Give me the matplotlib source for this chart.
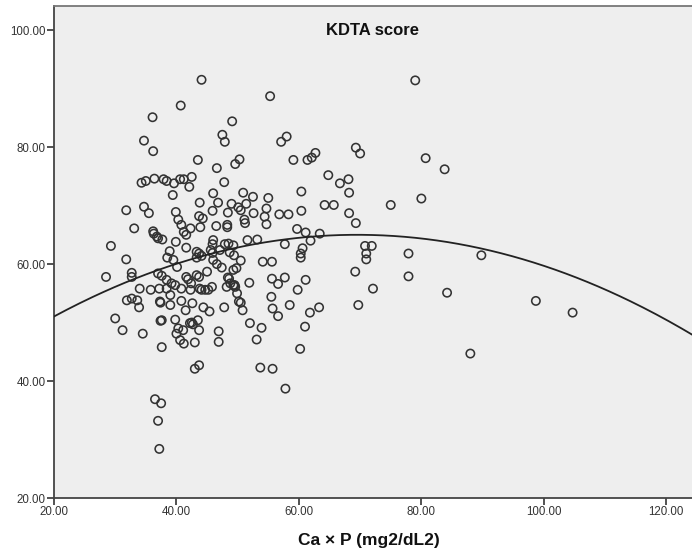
import numpy as np
import matplotlib
matplotlib.use("Agg")
import matplotlib.pyplot as plt

plt.rcParams['font.family'] = ['Liberation Sans', 'DejaVu Sans']

# Ca x P product (mg2/dL2) and KDTA score for each patient
ca_p = [
    44.1, 55.3, 40.7, 36.1, 49.1, 34.7, 36.2, 47.5, 47.9, 57.1, 58.0, 43.5, 59.1, 49.6, 50.3,
    46.6, 61.4, 62.1, 62.7, 64.8, 79.0, 69.3, 70.0, 80.7, 83.8,
    34.3, 35.0, 36.4, 37.9, 38.4, 39.6, 40.6, 41.2, 42.5, 42.1, 47.8, 66.7, 68.1, 68.2, 39.4,
    46.0, 50.9, 52.5, 55.0, 60.4,
    75.0, 80.0, 31.8, 34.7, 35.5, 43.8, 45.9, 46.8, 48.4, 49.0, 50.1, 50.5, 51.4, 52.6, 54.7,
    54.4, 56.8, 58.3, 60.4, 64.2, 65.7, 68.2, 69.3, 39.9, 40.3, 40.8, 43.7, 44.3, 42.3, 43.9,
    46.5, 48.3, 48.3, 51.1, 51.2, 54.7, 59.7, 33.1,
    36.2, 36.3, 36.8, 37.0, 37.7, 39.9, 41.2, 41.6, 46.0, 45.9, 47.9, 49.3, 48.5, 51.6, 53.2,
    57.7, 61.9, 61.1, 63.4, 29.3, 38.9, 38.5, 39.5, 41.6, 43.3, 43.7, 45.6, 45.9, 47.1, 49.4,
    48.7, 50.5, 54.1, 55.6, 43.3, 44.1, 46.0, 46.6, 47.4, 49.8, 49.3, 40.1, 31.8, 60.6, 60.3,
    60.3, 70.8, 71.9, 71.0, 71.0, 77.9, 89.8, 69.2, 77.9,
    28.5, 32.7, 32.7, 37.0, 37.6, 38.4, 45.0, 43.3, 41.6, 48.4, 55.6, 57.7, 61.1, 72.1, 69.7,
    84.2, 98.7, 104.7, 88.0,
    31.9, 32.7, 33.6, 34.0, 33.9, 35.8, 37.2, 37.3, 37.4, 38.4, 39.0, 39.0, 39.8, 40.8, 40.8,
    41.5, 41.9, 42.3, 42.4, 42.6, 43.7, 43.8, 44.4, 44.7, 45.2, 45.8, 45.4, 47.8, 48.2, 48.6,
    49.3, 49.6, 49.9, 50.2, 50.5, 50.8, 51.9, 55.5, 55.7, 56.6, 56.6, 58.5, 59.8, 61.8, 63.3,
    39.2, 44.1, 48.8, 49.5,
    30.0, 31.2, 34.5, 37.4, 37.6, 37.6, 39.8, 40.0, 40.3, 41.1, 40.6, 41.2, 42.2, 42.5, 42.7,
    43.0, 43.5, 43.7, 46.9, 46.9, 52.0, 53.9, 53.1, 61.0, 60.2, 43.0, 43.7, 53.7, 55.7, 57.8,
    36.5, 37.5, 37.0, 37.2,
]
kdta = [
    91.5, 88.7, 87.1, 85.1, 84.4, 81.1, 79.3, 82.1, 80.9, 80.9, 81.8, 77.8, 77.8, 77.1, 77.9,
    76.4, 77.8, 78.2, 79.0, 75.2, 91.4, 79.9, 78.9, 78.1, 76.2,
    73.9, 74.2, 74.6, 74.5, 74.2, 73.8, 74.5, 74.5, 74.9, 73.2, 74.0, 73.8, 74.5, 72.2, 71.8,
    72.1, 72.2, 71.5, 71.3, 72.4,
    70.1, 71.2, 69.2, 69.8, 68.7, 70.5, 69.1, 70.5, 68.8, 70.3, 69.7, 69.2, 70.3, 68.7, 69.5,
    68.1, 68.5, 68.5, 69.1, 70.1, 70.1, 68.7, 67.0, 68.9, 67.6, 66.7, 68.2, 67.8, 66.1, 66.3,
    66.5, 66.7, 66.3, 67.6, 67.0, 66.8, 66.0, 66.1,
    65.6, 65.2, 64.7, 64.4, 64.2, 63.8, 65.5, 65.0, 64.1, 63.4, 63.4, 63.2, 63.5, 64.1, 64.2,
    63.4, 64.0, 65.4, 65.2, 63.1, 62.2, 61.1, 60.7, 62.8, 62.1, 61.8, 62.4, 61.9, 62.4, 61.5,
    62.0, 60.6, 60.4, 60.4, 61.1, 61.4, 60.7, 60.0, 59.4, 59.3, 59.0, 59.5, 60.8, 62.7, 61.8,
    61.1, 63.1, 63.1, 61.8, 60.8, 61.8, 61.5, 58.7, 57.9,
    57.8, 58.5, 57.8, 58.4, 58.0, 57.3, 58.7, 58.1, 57.8, 57.7, 57.5, 57.7, 57.3, 55.8, 53.0,
    55.1, 53.7, 51.7, 44.7,
    53.8, 54.1, 53.8, 55.8, 52.6, 55.6, 55.8, 53.6, 53.4, 55.8, 54.7, 53.0, 56.4, 55.8, 53.7,
    52.1, 57.4, 55.6, 56.7, 53.3, 57.8, 55.8, 52.6, 55.6, 55.6, 56.1, 51.9, 52.6, 56.1, 57.5,
    56.4, 56.1, 55.0, 53.6, 53.4, 52.1, 56.8, 54.4, 52.4, 56.6, 51.1, 53.0, 55.6, 51.7, 52.6,
    56.7, 55.6, 56.7, 56.4,
    50.7, 48.7, 48.1, 50.3, 50.4, 45.8, 50.5, 48.1, 49.0, 48.7, 47.0, 46.4, 49.9, 50.0, 49.7,
    46.6, 50.4, 48.7, 48.5, 46.7, 49.9, 49.1, 47.1, 49.3, 45.5, 42.1, 42.7, 42.3, 42.1, 38.7,
    36.9, 36.2, 33.2, 28.4,
]

# Quadratic fit line: score = c0 + c1*x + c2*x^2
fit_coef = [37.47, 0.7923, -0.0057]

x_ticks = [20, 40, 60, 80, 100, 120]
y_ticks = [20, 40, 60, 80, 100]

fig = plt.figure(figsize=(6.92, 5.54), dpi=100, facecolor='white')
ax = fig.add_axes([0.078, 0.101, 0.922, 0.888])
ax.set_facecolor('#eeeeee')

ax.scatter(ca_p, kdta, s=36, facecolors='none', edgecolors='#333333',
           linewidths=1.15, zorder=3)

xs = np.linspace(20, 125, 300)
ys = fit_coef[0] + fit_coef[1] * xs + fit_coef[2] * xs ** 2
ax.plot(xs, ys, color='#222222', lw=1.3, zorder=4)

ax.set_xlim(20, 124.2)
ax.set_ylim(20, 104.1)
ax.set_xticks(x_ticks)
ax.set_yticks(y_ticks)
ax.set_xticklabels([f"{v:.2f}" for v in x_ticks])
ax.set_yticklabels([f"{v:.2f}" for v in y_ticks])
ax.tick_params(direction='out', length=5, width=1.2, colors='#333333',
               labelsize=8.3, pad=1)

for side in ['left', 'bottom', 'top']:
    ax.spines[side].set_color('#444444')
    ax.spines[side].set_linewidth(1.3)
ax.spines['top'].set_color('#777777')
ax.spines['right'].set_visible(False)

ax.text(0.5, 0.95, 'KDTA score', transform=ax.transAxes, ha='center',
        va='center', fontsize=12, fontweight='bold', color='#111111')
fig.text(0.533, 0.025, 'Ca × P (mg2/dL2)', ha='center', va='center',
         fontsize=12.5, fontweight='bold', color='#111111')

fig.savefig('out.png', dpi=100, facecolor='white')
